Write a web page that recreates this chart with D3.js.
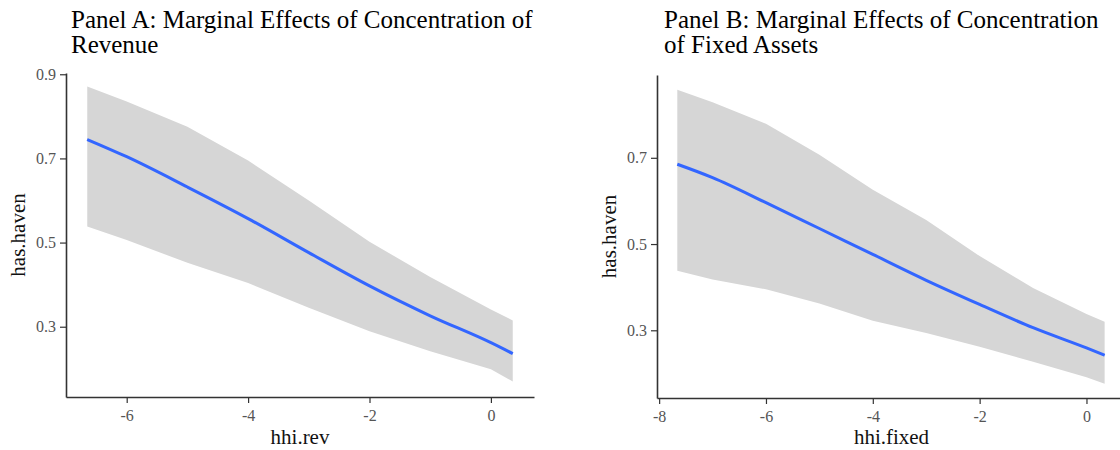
<!DOCTYPE html>
<html>
<head>
<meta charset="utf-8">
<script src="https://cdn.jsdelivr.net/npm/d3@7"></script>
<style>
  html, body { margin: 0; padding: 0; background: #fff; }
  svg { display: block; }
  text { font-family: "Liberation Serif", "Times New Roman", serif; }
</style>
</head>
<body>
<svg id="chart" width="1120" height="450"></svg>
<script>
// Predicted probability of having a haven subsidiary, with 95% band
const revX     = [-6.65, -6.0, -5.0, -4.0, -3.0, -2.0, -1.0, 0.0, 0.36];
const revFit   = [0.745, 0.704, 0.632, 0.557, 0.476, 0.397, 0.326, 0.262, 0.236];
const revUpper = [0.871, 0.835, 0.775, 0.695, 0.600, 0.502, 0.418, 0.341, 0.315];
const revLower = [0.538, 0.506, 0.452, 0.404, 0.345, 0.289, 0.242, 0.199, 0.170];

const fixX     = [-7.66, -7.0, -6.0, -5.0, -4.0, -3.0, -2.0, -1.0, 0.0, 0.34];
const fixFit   = [0.685, 0.654, 0.596, 0.536, 0.476, 0.416, 0.360, 0.306, 0.259, 0.242];
const fixUpper = [0.858, 0.829, 0.779, 0.707, 0.626, 0.556, 0.472, 0.398, 0.338, 0.320];
const fixLower = [0.438, 0.418, 0.395, 0.362, 0.322, 0.294, 0.262, 0.227, 0.191, 0.176];

const revXTicks = [-6, -4, -2, 0];
const revYTicks = [0.3, 0.5, 0.7, 0.9];
const fixXTicks = [-8, -6, -4, -2, 0];
const fixYTicks = [0.3, 0.5, 0.7];

const svg = d3.select("#chart");

function drawPanel(cfg) {
  const x = d3.scaleLinear().domain(cfg.xDomain).range([cfg.left, cfg.right]);
  const y = d3.scaleLinear().domain(cfg.yDomain).range([cfg.bottom, cfg.top]);
  const rows = cfg.xs.map((v, i) => ({ x: v, fit: cfg.fit[i], lo: cfg.lower[i], hi: cfg.upper[i] }));

  const g = svg.append("g");

  // confidence band
  g.append("path")
    .datum(rows)
    .attr("fill", "#d6d6d6")
    .attr("d", d3.area()
      .x(d => x(d.x))
      .y0(d => y(d.lo))
      .y1(d => y(d.hi)));

  // fitted line
  g.append("path")
    .datum(rows)
    .attr("fill", "none")
    .attr("stroke", "#3366ff")
    .attr("stroke-width", 3)
    .attr("d", d3.line()
      .x(d => x(d.x))
      .y(d => y(d.fit))
      .curve(d3.curveMonotoneX));

  // axes
  const xAxis = g.append("g")
    .attr("transform", `translate(0,${cfg.bottom})`)
    .call(d3.axisBottom(x).tickValues(cfg.xTicks).tickSize(6).tickPadding(7)
      .tickFormat(d3.format("d")).tickSizeOuter(0));
  const yAxis = g.append("g")
    .attr("transform", `translate(${cfg.left},0)`)
    .call(d3.axisLeft(y).tickValues(cfg.yTicks).tickSize(6).tickPadding(4)
      .tickFormat(d3.format(".1f")).tickSizeOuter(0));

  [xAxis, yAxis].forEach(a => {
    a.select(".domain").attr("stroke", "#333").attr("stroke-width", 1.6);
    a.selectAll(".tick line").attr("stroke", "#333").attr("stroke-width", 1.2);
    a.selectAll(".tick text")
      .attr("fill", "#555")
      .style("font-family", "'Liberation Serif', serif")
      .style("font-size", "16px");
  });
  xAxis.selectAll(".tick text").text(d => d < 0 ? "-" + Math.abs(d) : d);

  // axis titles
  g.append("text")
    .attr("x", (cfg.left + cfg.right) / 2)
    .attr("y", 444)
    .attr("text-anchor", "middle")
    .style("font-size", "21px")
    .attr("fill", "#111")
    .text(cfg.xTitle);
  g.append("text")
    .attr("transform", `translate(${cfg.yTitleX},${(cfg.top + cfg.bottom) / 2}) rotate(-90)`)
    .attr("text-anchor", "middle")
    .style("font-size", "21px")
    .attr("fill", "#111")
    .text("has.haven");

  // panel title
  const t = g.append("text")
    .attr("x", cfg.titleX)
    .attr("y", 28)
    .style("font-size", "25px")
    .attr("fill", "#000");
  cfg.title.forEach((line, i) => {
    t.append("tspan").attr("x", cfg.titleX).attr("dy", i === 0 ? 0 : 25).text(line);
  });
}

drawPanel({
  xs: revX, fit: revFit, upper: revUpper, lower: revLower,
  xDomain: [-7.0, 0.71], yDomain: [0.133, 0.903],
  left: 66, right: 534, top: 73, bottom: 397,
  xTicks: revXTicks, yTicks: revYTicks,
  xTitle: "hhi.rev", yTitleX: 25, titleX: 71,
  title: ["Panel A: Marginal Effects of Concentration of", "Revenue"]
});

drawPanel({
  xs: fixX, fit: fixFit, upper: fixUpper, lower: fixLower,
  xDomain: [-8.04, 0.74], yDomain: [0.143, 0.892],
  left: 657, right: 1126, top: 75, bottom: 398,
  xTicks: fixXTicks, yTicks: fixYTicks,
  xTitle: "hhi.fixed", yTitleX: 616, titleX: 664,
  title: ["Panel B: Marginal Effects of Concentration", "of Fixed Assets"]
});
</script>
</body>
</html>
